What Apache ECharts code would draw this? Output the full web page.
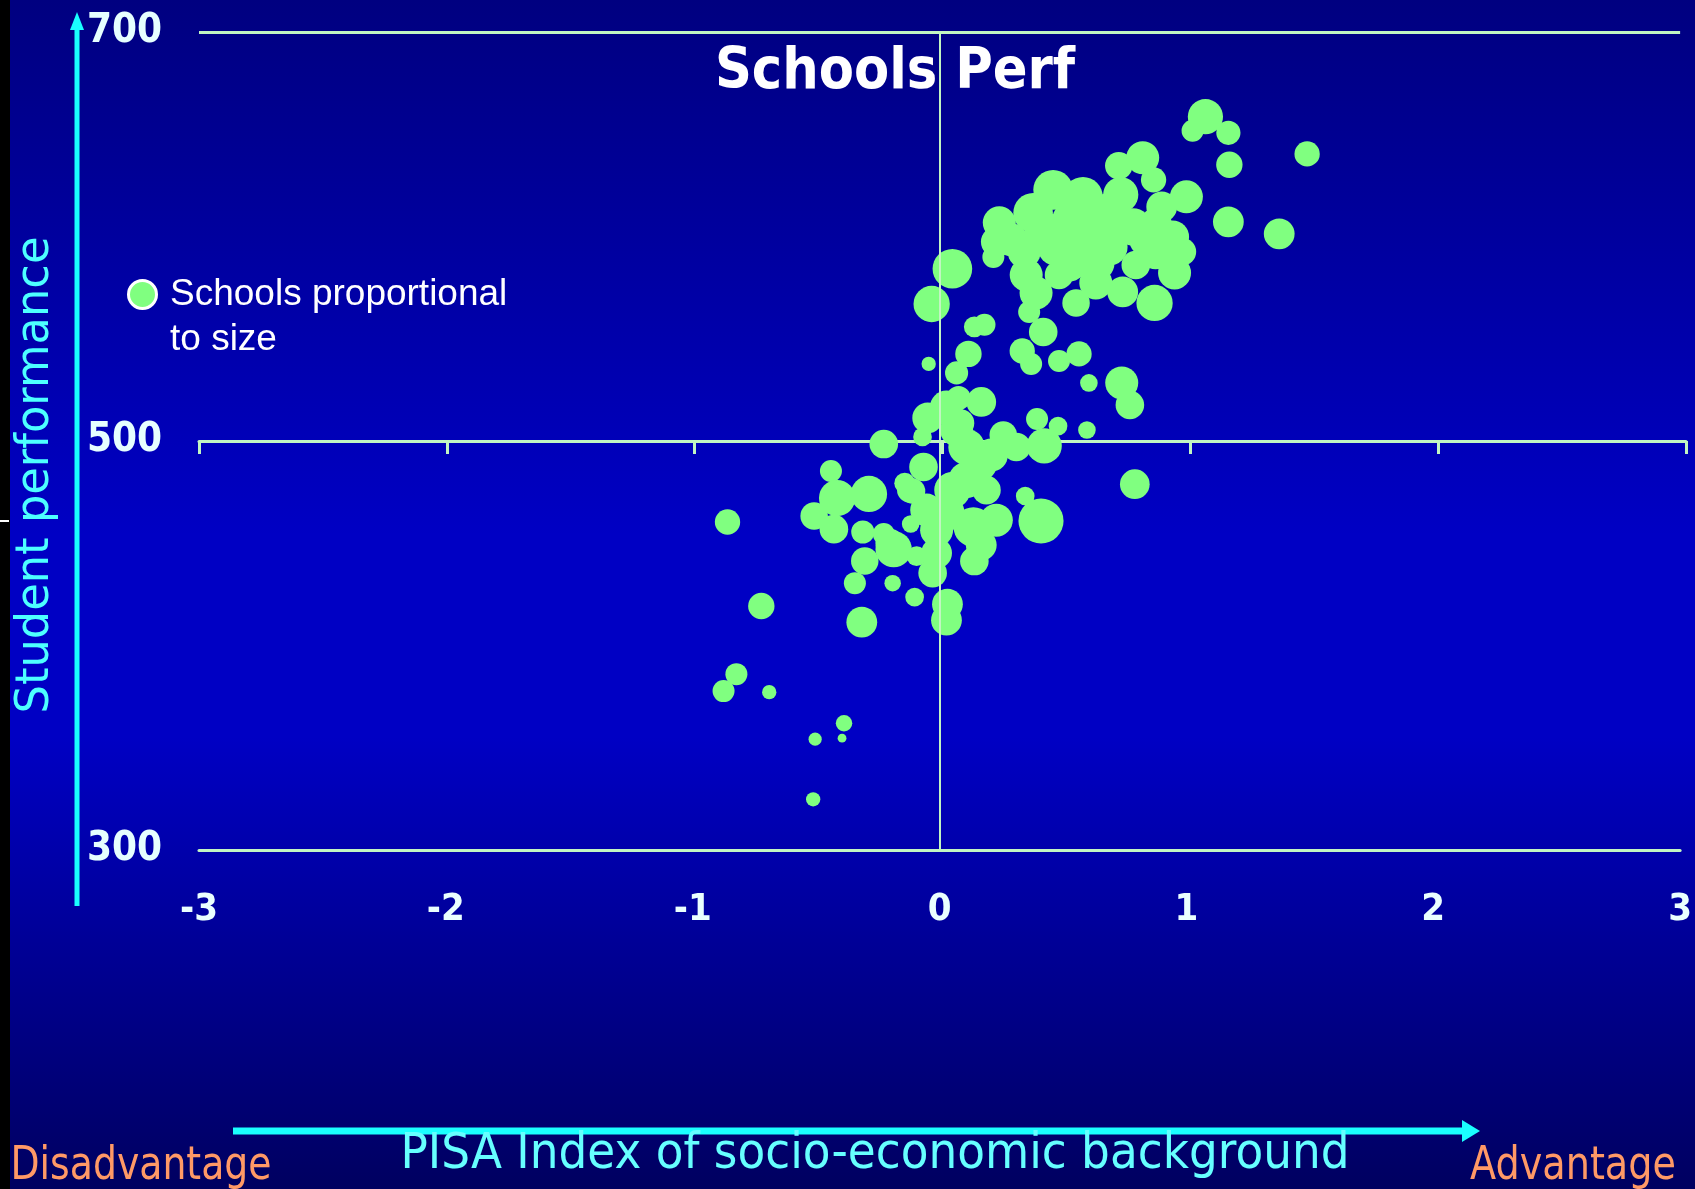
<!DOCTYPE html>
<html>
<head>
<meta charset="utf-8">
<script src="https://cdn.jsdelivr.net/npm/echarts@6/dist/echarts.min.js"></script>
<style>
  html, body { margin: 0; padding: 0; background: #000; overflow: hidden; }
  #chart { width: 1695px; height: 1189px; }
</style>
</head>
<body>
<div id="chart"></div>
<script>
// ---- Data ----
const xTicks = [-3, -2, -1, 0, 1, 2, 3];
const yTicks = [300, 500, 700];

// PISA index of socio-economic background of each school
const socioIndex = [
  1.077, 1.025, 1.170, 1.489, 1.174, 0.726, 0.823, 0.867, 1.000, 0.900,
  1.170, 1.376, 0.242, 0.230, 0.218, 0.052, -0.032, 0.460, 0.379, 0.581,
  0.686, 0.783, 0.944, 0.984, 0.952, 0.875, 0.795, 0.742, 0.633, 0.484,
  0.351, 0.391, 0.363, 0.553, 0.871, 0.472, 0.581, 0.686, 0.420, 0.633,
  0.524, 0.532, 0.343, 0.420, 0.141, 0.182, 0.117, 0.069, -0.044, 0.335,
  0.371, 0.484, 0.565, 0.605, 0.738, 0.771, 0.597, 0.395, 0.480, 0.424,
  -0.226, -0.440, -0.859, -0.286, -0.415, -0.508, -0.428, -0.311, -0.226, -0.186,
  -0.303, -0.343, -0.190, -0.117, -0.141, -0.109, -0.093, -0.101, -0.722, -0.315,
  0.032, 0.028, -0.028, -0.012, -0.052, 0.028, 0.137, 0.230, 0.141, 0.109,
  0.161, 0.109, 0.190, -0.065, 0.411, 0.347, 0.791, 0.311, 0.258, 0.169,
  0.077, 0.028, -0.048, -0.069, 0.085, -0.823, -0.875, -0.690, -0.387, -0.504,
  -0.395, -0.512, 0.052, -0.254, -0.202, -0.121,
  0.653, 0.734, 0.290, 0.835, 0.875, 0.069, 0.210, -0.012, 0.169
];
// Mean student performance of each school
const performance = [
  658.6, 651.7, 650.7, 640.4, 635.1, 634.6, 638.5, 627.7, 619.4, 614.5,
  607.2, 601.3, 606.7, 597.4, 590.0, 584.2, 567.0, 622.8, 611.6, 619.4,
  611.6, 604.7, 599.8, 592.5, 582.2, 592.0, 586.1, 572.9, 577.3, 581.2,
  581.2, 572.4, 563.1, 567.5, 567.5, 594.9, 598.4, 594.9, 603.3, 587.1,
  587.1, 608.1, 592.5, 553.3, 555.8, 556.8, 542.6, 533.3, 537.7, 544.0,
  537.7, 539.1, 542.6, 528.4, 528.4, 517.6, 505.4, 510.8, 507.3, 497.6,
  498.5, 485.3, 460.4, 474.1, 472.1, 463.3, 456.9, 455.5, 454.5, 447.1,
  441.3, 430.5, 430.5, 459.4, 479.4, 475.5, 443.7, 423.7, 419.3, 411.4,
  420.2, 412.4, 435.4, 445.2, 466.2, 464.8, 457.9, 461.3, 441.3, 480.9,
  489.2, 497.1, 476.0, 487.3, 460.9, 473.1, 478.9, 497.1, 502.9, 519.1,
  521.0, 516.6, 511.3, 502.0, 508.8, 386.0, 377.7, 377.2, 362.0, 354.2,
  354.7, 324.8, 476.0, 474.6, 450.1, 476.0,
  610.6, 620.4, 598.4, 598.4, 605.7, 505.4, 493.1, 456.4, 449.1
];
// School size (relative enrolment); bubble area is proportional to it
const schoolSize = [
  1024, 400, 484, 529, 576, 625, 900, 529, 900, 784,
  784, 784, 900, 784, 400, 1296, 1089, 1296, 1296, 1296,
  1296, 1156, 900, 625, 900, 900, 676, 784, 900, 676,
  900, 900, 400, 625, 1089, 1156, 1156, 1156, 1156, 1156,
  1156, 1156, 900, 676, 361, 400, 576, 441, 169, 529,
  400, 400, 529, 256, 900, 676, 256, 400, 289, 1024,
  676, 400, 529, 1089, 1089, 625, 676, 441, 400, 1089,
  625, 400, 225, 256, 361, 529, 324, 289, 576, 784,
  784, 784, 676, 784, 900, 1089, 1296, 900, 676, 1089,
  1089, 1089, 676, 676, 1681, 289, 729, 676, 625, 729,
  484, 900, 784, 289, 625, 400, 400, 169, 225, 144,
  64, 169, 1089, 289, 676, 529,
  1156, 1024, 900, 900, 900, 900, 900, 900, 784
];

const points = socioIndex.map((x, i) => [x, performance[i], schoolSize[i]]);

// ---- Styling ----
const LINE = '#c2f5c2';
const DOT = '#80ff80';
const CYAN = '#1affff';
const TEXT_CYAN = '#66ffff';
const ORANGE = '#ff9966';

function fitScale(text, font, target) {
  const ctx = document.createElement('canvas').getContext('2d');
  ctx.font = font;
  return target / ctx.measureText(text).width;
}

const fontSide = '46px "DejaVu Sans"';
const fontBottom = '50px "DejaVu Sans"';
const fontEnds = '46px "DejaVu Sans"';

function txt(text, x, y, font, fill, target, rotation) {
  return {
    type: 'text', x: x, y: y, rotation: rotation || 0,
    scaleX: fitScale(text, font, target), z: 10,
    style: {
      text: text, font: font, fill: fill,
      textAlign: 'center', align: 'center',
      textVerticalAlign: 'middle', verticalAlign: 'middle'
    }
  };
}

const chart = echarts.init(document.getElementById('chart'), null, { renderer: 'canvas' });

const option = {
  animation: false,
  backgroundColor: new echarts.graphic.LinearGradient(0, 0, 0, 1, [
    { offset: 0, color: '#000080' },
    { offset: 0.45, color: '#0000c4' },
    { offset: 0.62, color: '#0000c4' },
    { offset: 1, color: '#000060' }
  ]),
  title: {
    text: 'Schools Perf',
    left: 890, top: 40, textAlign: 'center',
    textStyle: { color: '#ffffff', fontSize: 57, fontWeight: 'bold',
      fontFamily: '"DejaVu Sans Condensed", "Liberation Sans Narrow", "DejaVu Sans"' }
  },
  legend: {
    left: 122, top: 222, orient: 'vertical',
    itemWidth: 45, itemHeight: 28, icon: 'circle',
    itemStyle: { color: DOT, borderColor: '#ffffff', borderWidth: 3 },
    textStyle: { color: '#ffffff', fontSize: 37, fontFamily: '"Liberation Sans", Arial',
      lineHeight: 45 },
    formatter: name => '\n' + name,
    data: ['Schools proportional\nto size']
  },
  grid: [
    { left: 199, right: 9, top: 32, bottom: 339 },
    { left: 199, right: 9, top: 32, height: 409 }
  ],
  xAxis: [
    {
      type: 'value', gridIndex: 0, min: -3, max: 3, interval: 1,
      axisLine: { show: true, lineStyle: { color: LINE, width: 3 } },
      axisTick: { show: false },
      splitLine: { show: false },
      axisLabel: { color: '#eaffff', fontSize: 38, fontWeight: 'bold', margin: 41,
        fontFamily: '"DejaVu Sans Condensed", "DejaVu Sans"',
        formatter: v => xTicks.indexOf(v) >= 0 ? String(v) : '' }
    },
    {
      type: 'value', gridIndex: 1, min: -3, max: 3, interval: 1, position: 'bottom',
      axisLine: { show: true, onZero: false, lineStyle: { color: LINE, width: 3 } },
      axisTick: { show: true, inside: false, length: 13, lineStyle: { color: LINE, width: 3 } },
      axisLabel: { show: false },
      splitLine: { show: false }
    }
  ],
  yAxis: [
    {
      type: 'value', gridIndex: 0, min: 300, max: 700, interval: 200,
      axisLine: { show: false }, axisTick: { show: false },
      splitLine: { show: true, lineStyle: { color: LINE, width: 3 } },
      axisLabel: { color: '#e6ffff', fontSize: 40, fontWeight: 'bold', margin: 37,
        fontFamily: '"DejaVu Sans Condensed", "DejaVu Sans"',
        formatter: v => yTicks.indexOf(v) >= 0 ? String(v) : '' }
    },
    {
      type: 'value', gridIndex: 1, min: 500, max: 700, show: false
    }
  ],
  series: [
    {
      name: 'Schools proportional\nto size',
      type: 'scatter', xAxisIndex: 0, yAxisIndex: 0,
      data: points,
      symbol: 'circle',
      symbolSize: d => 1.1 * Math.sqrt(d[2]),
      itemStyle: { color: DOT, opacity: 1 },
      z: 3,
      markLine: {
        silent: true, symbol: ['none', 'none'], label: { show: false },
        lineStyle: { color: LINE, width: 2, type: 'solid' },
        data: [{ xAxis: 0 }]
      }
    }
  ],
  graphic: { elements: [
    { type: 'rect', shape: { x: 0, y: 0, width: 10, height: 1189 }, style: { fill: '#000' }, z: 20 },
    { type: 'rect', shape: { x: 0, y: 520, width: 9, height: 2 }, style: { fill: '#ffffff' }, z: 21 },
    { type: 'line', shape: { x1: 77, y1: 906, x2: 77, y2: 26 }, style: { stroke: CYAN, lineWidth: 5 }, z: 10 },
    { type: 'polygon', shape: { points: [[77, 12], [70, 30], [84, 30]] }, style: { fill: CYAN }, z: 10 },
    { type: 'line', shape: { x1: 233, y1: 1131, x2: 1466, y2: 1131 }, style: { stroke: CYAN, lineWidth: 7 }, z: 10 },
    { type: 'polygon', shape: { points: [[1480, 1131], [1462, 1120], [1462, 1142]] }, style: { fill: CYAN }, z: 10 },
    txt('Student performance', 36, 475, fontSide, '#4dffff', 477, Math.PI / 2),
    txt('PISA Index of socio-economic background', 875, 1155, fontBottom, TEXT_CYAN, 949),
    txt('Disadvantage', 141, 1167, fontEnds, ORANGE, 261),
    txt('Advantage', 1573, 1167, fontEnds, ORANGE, 206)
  ] }
};

chart.setOption(option);
</script>
</body>
</html>
